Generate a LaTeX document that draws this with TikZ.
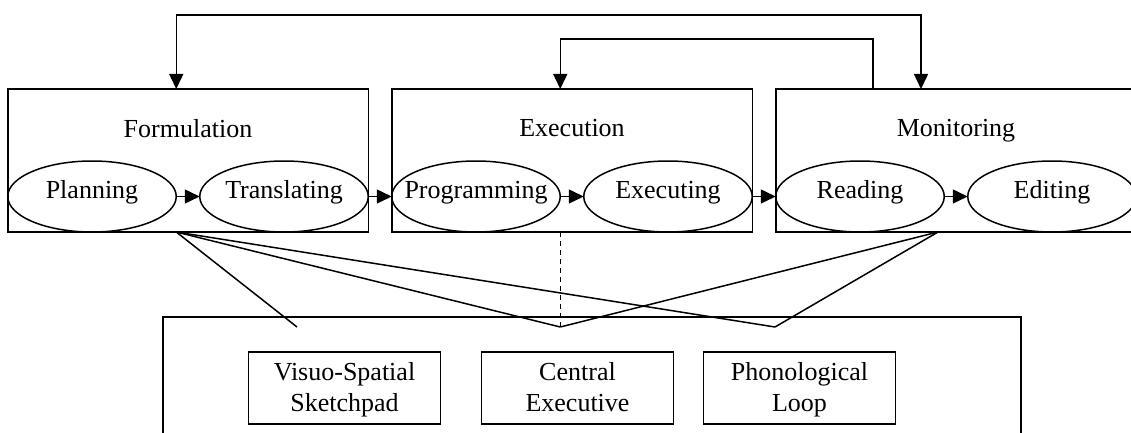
\documentclass[tikz,border=0pt]{standalone}
\usepackage{fontspec}
\setmainfont{Liberation Serif}
\usetikzlibrary{arrows.meta,positioning,shapes.geometric}

\begin{document}
\begin{tikzpicture}[x=1pt, y=1pt, line width=1.5pt, >={Triangle[length=15pt,width=14pt]},
    font=\fontsize{26}{31}\selectfont,
    stage/.style={draw, anchor=south west, minimum width=360.5pt, minimum height=143pt, inner sep=0pt, outer sep=0pt},
    subproc/.style={draw, ellipse, minimum width=168.5pt, minimum height=71pt, inner sep=0pt, outer sep=0pt, text height=18pt, text depth=14pt,
        execute at begin node=\hbox to 0pt\bgroup\hss, execute at end node=\hss\egroup},
    title/.style={inner sep=0pt},
    store/.style={draw, align=center, minimum width=192pt, minimum height=72pt, inner sep=0pt, outer sep=0pt, text height=49pt, text depth=3pt},
    memory/.style={draw, minimum width=858pt, minimum height=140pt, outer sep=0pt}]
    \useasboundingbox (0,0) rectangle (1131,-433);
    % Sub-processes (one chain of ellipses)
    \node[subproc] (planning) at (92,-196.5) {Planning};
    \node[subproc, right=23.5pt of planning] (translating) {Translating};
    \node[subproc, right=23.5pt of translating] (programming) {Programming};
    \node[subproc, right=23.5pt of programming] (executing) {Executing};
    \node[subproc, right=23.5pt of executing] (reading) {Reading};
    \node[subproc, right=23.5pt of reading] (editing) {Editing};
    % Stage boxes around each pair
    \node[stage] (formulation) at (planning.west |- planning.south) {};
    \node[stage] (execution) at (programming.west |- programming.south) {};
    \node[stage] (monitoring) at (reading.west |- reading.south) {};
    % Stage titles
    \node[title, below=30pt of formulation.north] (formtitle) {Formulation};
    \node[title, below=30pt of execution.north] (exectitle) {Execution};
    \node[title, below=30pt of monitoring.north] (montitle) {Monitoring};
    % Working memory
    \node[memory] (wm) at (592,-387) {};
    \node[store] (sketchpad) at (344.5,-388) {Visuo-Spatial\\Sketchpad};
    \node[store, right=41pt of sketchpad] (central) {Central\\Executive};
    \node[store, right=30pt of central] (loop) {Phonological\\Loop};
    % Connection points on the boxes
    \coordinate (formin) at (formulation.north -| planning.east);
    \coordinate (execin) at (execution.north -| programming.east);
    \coordinate (monin) at (921,-89);
    \coordinate (monup) at (873,-89);
    \coordinate (formout) at (formulation.south -| planning.east);
    \coordinate (execout) at (execution.south -| programming.east);
    \coordinate (monout) at (938,-232);
    \coordinate (sketchin) at (297,-327);
    \coordinate (centralin) at (execout |- 0,-327);
    \coordinate (loopin) at (775,-327);
    % Arrows
    \draw[->] (planning) -- (translating);
    \draw[->] (translating) -- (programming);
    \draw[->] (programming) -- (executing);
    \draw[->] (executing) -- (reading);
    \draw[->] (reading) -- (editing);
    \draw[<->] (formin) -- ++(0,74) -| (monin);
    \draw[->] (monup) -- ++(0,50) -| (execin);
    % Links to working memory
    \draw (formout) -- (sketchin);
    \draw (formout) -- (centralin);
    \draw (formout) -- (loopin);
    \draw (monout) -- (centralin);
    \draw (monout) -- (loopin);
    \draw[dash pattern=on 5pt off 4pt] (execout) -- (centralin);
\end{tikzpicture}
\end{document}
